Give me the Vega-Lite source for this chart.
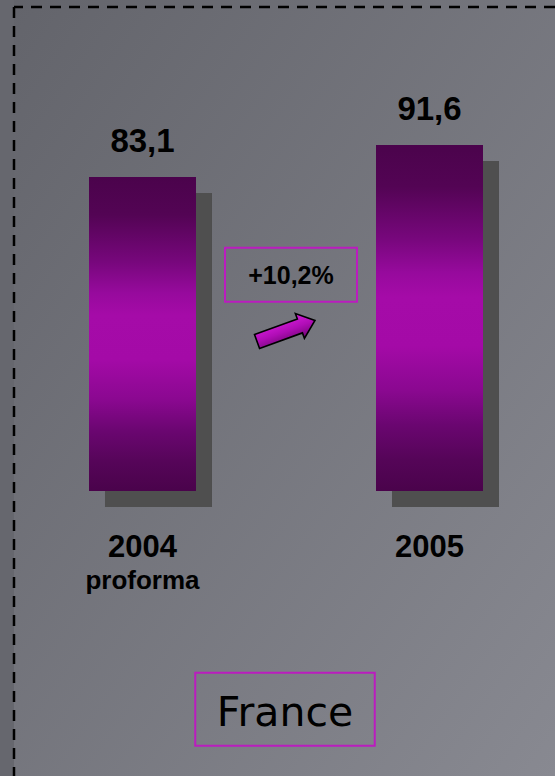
{
  "$schema": "https://vega.github.io/schema/vega-lite/v6.json",
  "width": 541,
  "height": 769,
  "padding": {"left": 14, "top": 7, "right": 0, "bottom": 0},
  "autosize": {"type": "none"},
  "background": "#66676e",
  "config": {"view": {"stroke": null}, "axis": {"disable": true}},
  "data": {
    "values": [
      {"year": "2004", "value": 83.1, "label": "83,1", "sub": "proforma"},
      {"year": "2005", "value": 91.6, "label": "91,6", "sub": ""}
    ]
  },
  "resolve": {"scale": {"x": "independent"}},
  "layer": [
    {
      "layer": [
        {
          "data": {"values": [{"item": "background"}]},
          "mark": {
            "type": "rect",
            "x2Offset": -14,
            "yOffset": -7,
            "fill": {
              "gradient": "linear",
              "x1": 0, "y1": 0, "x2": 1, "y2": 1,
              "stops": [
                {"offset": 0, "color": "#63646b"},
                {"offset": 1, "color": "#888991"}
              ]
            }
          },
          "encoding": {
            "y": {"datum": 128.11, "type": "quantitative", "axis": null},
            "y2": {"datum": -75.44}
          }
        },
        {
          "data": {"values": [{"item": "top border"}]},
          "mark": {"type": "rule", "color": "#000000", "strokeWidth": 2.5, "strokeDash": [11, 8]},
          "encoding": {
            "y": {"datum": 128.11, "type": "quantitative", "axis": null}
          }
        },
        {
          "mark": {"type": "bar", "color": "#4f4f4f", "xOffset": 16, "yOffset": 16, "y2Offset": 16},
          "encoding": {
            "x": {
              "field": "year", "type": "nominal", "axis": null,
              "scale": {"domain": ["2004", "mid", "2005"], "paddingInner": 0.254355, "paddingOuter": 0.512195, "align": 0.5102}
            },
            "y": {
              "field": "value", "type": "quantitative", "axis": null,
              "scale": {"domain": [-75.44, 128.11], "nice": false, "zero": false}
            },
            "y2": {"datum": 0}
          }
        },
        {
          "mark": {
            "type": "bar",
            "color": {
              "gradient": "linear",
              "x1": 0, "y1": 0, "x2": 0, "y2": 1,
              "stops": [
                {"offset": 0, "color": "#4b034c"},
                {"offset": 0.12, "color": "#530454"},
                {"offset": 0.27, "color": "#77077c"},
                {"offset": 0.37, "color": "#970a9d"},
                {"offset": 0.44, "color": "#a50ba8"},
                {"offset": 0.58, "color": "#a40aa7"},
                {"offset": 0.71, "color": "#8a0890"},
                {"offset": 0.81, "color": "#6a0670"},
                {"offset": 0.91, "color": "#550558"},
                {"offset": 1, "color": "#4a034b"}
              ]
            }
          },
          "encoding": {
            "x": {"field": "year", "type": "nominal", "axis": null},
            "y": {"field": "value", "type": "quantitative", "axis": null},
            "y2": {"datum": 0}
          }
        },
        {
          "mark": {"type": "text", "font": "Liberation Sans", "fontWeight": "bold", "fontSize": 33, "dy": -25, "baseline": "alphabetic", "color": "#000000"},
          "encoding": {
            "x": {"field": "year", "type": "nominal", "axis": null},
            "y": {"field": "value", "type": "quantitative", "axis": null},
            "text": {"field": "label"}
          }
        },
        {
          "mark": {"type": "text", "font": "Liberation Sans", "fontWeight": "bold", "fontSize": 31, "dy": 66, "baseline": "alphabetic", "color": "#000000"},
          "encoding": {
            "x": {"field": "year", "type": "nominal", "axis": null},
            "y": {"datum": 0, "type": "quantitative", "axis": null},
            "text": {"field": "year"}
          }
        },
        {
          "mark": {"type": "text", "font": "Liberation Sans", "fontWeight": "bold", "fontSize": 26, "dy": 98, "baseline": "alphabetic", "color": "#000000"},
          "encoding": {
            "x": {"field": "year", "type": "nominal", "axis": null},
            "y": {"datum": 0, "type": "quantitative", "axis": null},
            "text": {"field": "sub"}
          }
        },
        {
          "data": {"values": [{"label": "+10,2%"}]},
          "layer": [
            {
              "mark": {
                "type": "point",
                "shape": "M-1,-0.41L1,-0.41L1,0.41L-1,0.41Z",
                "size": 17424,
                "filled": false,
                "stroke": "#bb1cbf",
                "strokeWidth": 2,
                "opacity": 1,
                "xOffset": 5
              },
              "encoding": {
                "x": {"datum": "mid", "type": "nominal", "axis": null},
                "y": {"datum": 57.25, "type": "quantitative", "axis": null}
              }
            },
            {
              "mark": {"type": "text", "font": "Liberation Sans", "fontWeight": "bold", "fontSize": 25, "dy": 9, "xOffset": 5, "baseline": "alphabetic", "color": "#000000"},
              "encoding": {
                "x": {"datum": "mid", "type": "nominal", "axis": null},
                "y": {"datum": 57.25, "type": "quantitative", "axis": null},
                "text": {"field": "label"}
              }
            },
            {
              "mark": {
                "type": "point",
                "shape": "M-1,-0.24L0.48,-0.24L0.48,-0.43L1,0L0.48,0.43L0.48,0.24L-1,0.24Z",
                "size": 3800,
                "angle": 340,
                "filled": true,
                "fill": {
                  "gradient": "linear",
                  "x1": 0, "y1": 0, "x2": 0, "y2": 1,
                  "stops": [
                    {"offset": 0, "color": "#d61ddc"},
                    {"offset": 0.5, "color": "#b00db6"},
                    {"offset": 1, "color": "#6e0672"}
                  ]
                },
                "stroke": "#000000",
                "strokeWidth": 1.6,
                "opacity": 1
              },
              "encoding": {
                "x": {"datum": "mid", "type": "nominal", "axis": null},
                "y": {"datum": 42.35, "type": "quantitative", "axis": null}
              }
            }
          ]
        },
        {
          "data": {"values": [{"label": "France"}]},
          "layer": [
            {
              "mark": {
                "type": "point",
                "shape": "M-1,-0.407L1,-0.407L1,0.407L-1,0.407Z",
                "size": 32220,
                "filled": false,
                "stroke": "#bb1cbf",
                "strokeWidth": 2,
                "opacity": 1,
                "xOffset": -1
              },
              "encoding": {
                "x": {"datum": "mid", "type": "nominal", "axis": null},
                "y": {"datum": -57.75, "type": "quantitative", "axis": null}
              }
            },
            {
              "mark": {"type": "text", "font": "DejaVu Sans", "fontSize": 41, "dy": 16.5, "xOffset": -1, "baseline": "alphabetic", "color": "#000000"},
              "encoding": {
                "x": {"datum": "mid", "type": "nominal", "axis": null},
                "y": {"datum": -57.75, "type": "quantitative", "axis": null},
                "text": {"field": "label"}
              }
            }
          ]
        }
      ]
    },
    {
      "data": {"values": [{"item": "left border"}]},
      "mark": {"type": "rule", "color": "#000000", "strokeWidth": 2.5, "strokeDash": [11, 8]},
      "encoding": {
        "x": {"datum": 0, "type": "quantitative", "axis": null, "scale": {"domain": [0, 1]}},
        "y": {"datum": 128.11, "type": "quantitative", "axis": null},
        "y2": {"datum": -75.44}
      }
    }
  ]
}
